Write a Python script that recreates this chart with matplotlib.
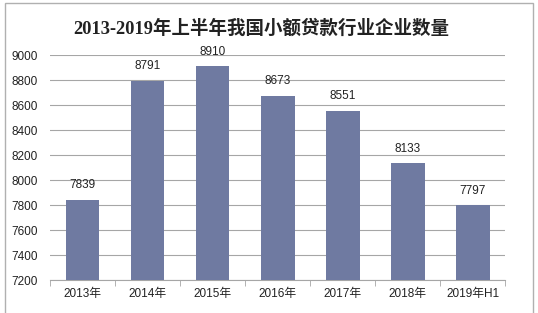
import matplotlib
matplotlib.use('Agg')
import matplotlib.pyplot as plt
from matplotlib.patches import Rectangle
import numpy as np

plt.rcParams['font.family'] = ['Liberation Sans', 'Noto Sans CJK SC', 'DejaVu Sans']

years = ['2013年', '2014年', '2015年', '2016年', '2017年', '2018年', '2019年H1']
counts = [7839, 8791, 8910, 8673, 8551, 8133, 7797]
yticks = list(range(7200, 9001, 200))

fig = plt.figure(figsize=(5.38, 3.13), dpi=100)
ax = fig.add_axes([0.093, 0.105, 0.846, 0.719])

x = np.arange(len(years))
ax.bar(x, counts, width=0.52, color='#6f7aa1', zorder=3)
for xi, v in zip(x, counts):
    ax.text(xi, v + 70, str(v), ha='center', va='bottom', fontsize=8.5, color='#222222')

ax.set_ylim(7200, 9000)
ax.set_xlim(-0.5, len(years) - 0.5)
ax.set_yticks(yticks)
ax.set_yticklabels([str(t) for t in yticks], fontsize=8.5, color='#222222')
ax.grid(axis='y', color='#a6a6a6', linewidth=0.8, zorder=0)
ax.tick_params(axis='y', length=0, pad=9)

ax.set_xticks(x)
ax.set_xticklabels(years, fontsize=8.5, color='#222222')
ax.tick_params(axis='x', length=0, pad=6)
ax.set_xticks(np.arange(-0.5, len(years), 1), minor=True)
ax.tick_params(axis='x', which='minor', length=4, color='#a6a6a6')

for s in ['top', 'right', 'left']:
    ax.spines[s].set_visible(False)
ax.spines['bottom'].set_color('#a6a6a6')

fig.text(0.486, 0.91, '2013-2019年上半年我国小额贷款行业企业数量', ha='center', va='center',
         fontsize=13.3, fontweight='bold', color='#222222',
         family=['Liberation Serif', 'Noto Sans CJK SC'])

fig.patches.append(Rectangle((0.009, -0.05), 0.982, 1.04, transform=fig.transFigure,
                             fill=False, edgecolor='#b0b0b0', linewidth=1))

fig.savefig('out.png', dpi=100, facecolor='white')
